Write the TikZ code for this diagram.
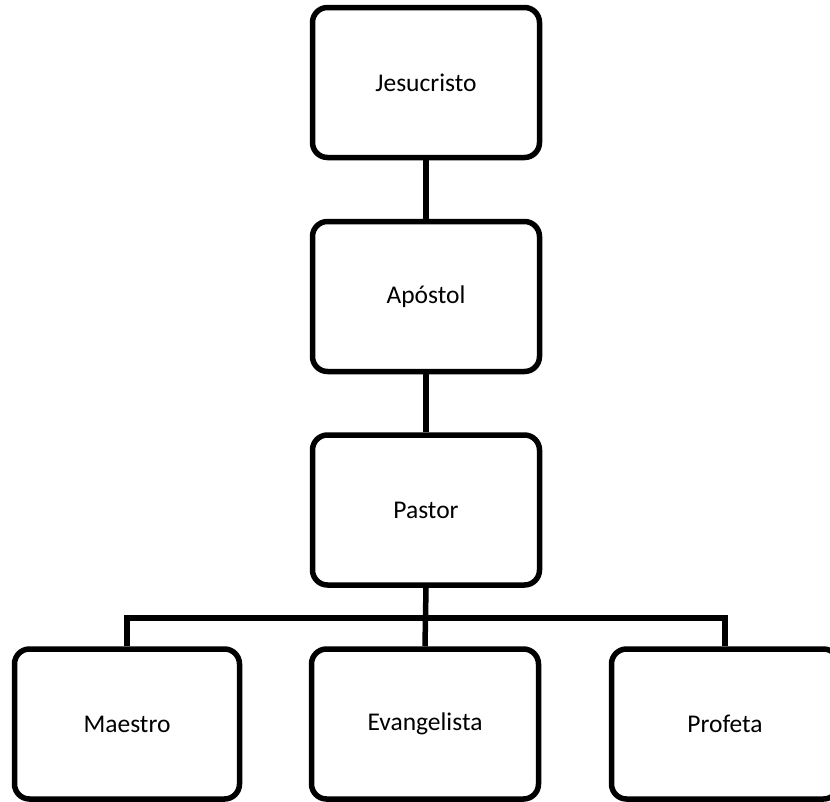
\documentclass[tikz,border=0pt]{standalone}
\usepackage{fontspec}
\setmainfont{Carlito}
\begin{document}
\begin{tikzpicture}[x=1pt,y=-1pt,
  box/.style={draw=black,line width=5.5pt,rounded corners=15pt,fill=white,
    minimum width=227pt,minimum height=150pt,inner sep=0pt,
    font=\fontsize{25.5}{30}\selectfont},
  link/.style={draw=black,line width=5.5pt}]
\useasboundingbox (0,0) rectangle (830,801);
\begin{scope}
\clip (0,0) rectangle (830,801);
\node[box] (jes) at (426,82.5) {Jesucristo};
\node[box] (apo) at (426,296.5) {Apóstol};
\node[box] (pas) at (426,510) {Pastor};
\node[box,minimum width=225pt] (mae) at (127,724) {Maestro};
\node[box,minimum width=227pt] (eva) at (425,724) {Evangelista};
\node[box,minimum width=227pt] (pro) at (725,724) {Profeta};
\coordinate (bus) at (426,618);
\draw[link] (jes.south) -- (apo.north);
\draw[link] (apo.south) -- (pas.north);
\draw[link] (pas.south) -- (eva.north);
\draw[link] (mae.north) |- (bus) -| (pro.north);
\end{scope}
\end{tikzpicture}
\end{document}
